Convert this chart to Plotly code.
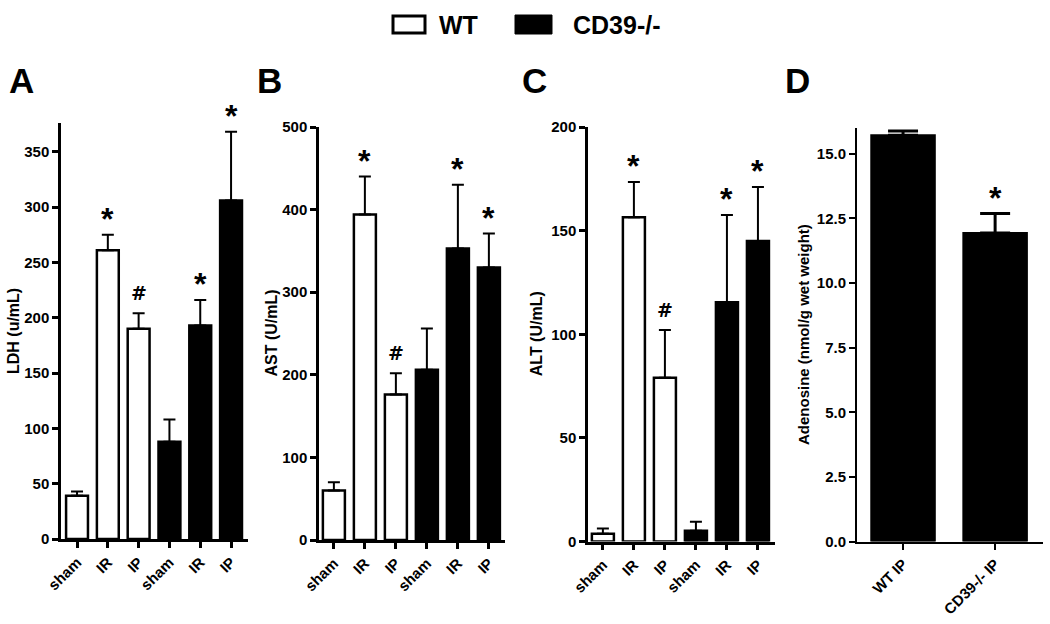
import plotly.graph_objects as go

# ---------------- data ----------------
groups = ["sham", "IR", "IP"]
tick_labels_abc = groups + groups

A_wt = [39, 261, 190]
A_wt_err = [4, 14, 14]
A_ko = [88, 193, 306]
A_ko_err = [20, 23, 62]
A_wt_sig = ["", "*", "#"]
A_ko_sig = ["", "*", "*"]

B_wt = [60, 394, 176]
B_wt_err = [10, 46, 26]
B_ko = [206, 353, 330]
B_ko_err = [50, 77, 41]
B_wt_sig = ["", "*", "#"]
B_ko_sig = ["", "*", "*"]

C_wt = [3.7, 156.5, 79]
C_wt_err = [2.6, 17, 23]
C_ko = [5.2, 115.5, 145]
C_ko_err = [4.3, 42, 26]
C_wt_sig = ["", "*", "#"]
C_ko_sig = ["", "*", "*"]

D_labels = ["WT IP", "CD39-/- IP"]
D_vals = [15.72, 11.94]
D_err = [0.16, 0.75]
D_sig = ["", "*"]

# ---------------- layout helpers ----------------
W, H = 1050, 624
FONT = "Liberation Sans, Arial, sans-serif"


def px_x(p):
    return p / W


def px_y(p):
    return 1 - p / H


fig = go.Figure()

panels = [
    dict(letter="A", title="LDH (u/mL)", x0=61, x1=248, ybot=539, ytop=123,
         yr=[0, 376], tickvals=list(range(0, 351, 50)),
         xr=[-0.52, 5.55], letter_x=7, title_x=13,
         wt=A_wt, wte=A_wt_err, ko=A_ko, koe=A_ko_err, wts=A_wt_sig, kos=A_ko_sig),
    dict(letter="B", title="AST (U/mL)", x0=319, x1=505, ybot=540, ytop=127,
         yr=[0, 500], tickvals=list(range(0, 501, 100)),
         xr=[-0.48, 5.52], letter_x=255, title_x=271,
         wt=B_wt, wte=B_wt_err, ko=B_ko, koe=B_ko_err, wts=B_wt_sig, kos=B_ko_sig),
    dict(letter="C", title="ALT (U/mL)", x0=588, x1=775, ybot=541.5, ytop=127,
         yr=[0, 200], tickvals=list(range(0, 201, 50)),
         xr=[-0.48, 5.55], letter_x=520, title_x=536,
         wt=C_wt, wte=C_wt_err, ko=C_ko, koe=C_ko_err, wts=C_wt_sig, kos=C_ko_sig),
]

annotations = []
layout_axes = {}


def axis_style(lw):
    return dict(
        showline=True, linecolor="black", linewidth=lw, ticks="outside",
        ticklen=6, tickwidth=lw, tickcolor="black", showgrid=False, zeroline=False,
        automargin=False,
        tickfont=dict(family=FONT, size=15, color="black", weight="bold"),
    )


def sig_annotation(xv, top, s, xa, ya):
    if s == "*":
        font = dict(family=FONT, size=32, color="black", weight="bold")
        shift = -4
    else:
        font = dict(family="DejaVu Sans, sans-serif", size=19, color="black", weight="bold")
        shift = 7
    return dict(x=xv, y=top, xref=xa, yref=ya, text=s, showarrow=False,
                yanchor="bottom", yshift=shift, font=font)


for i, p in enumerate(panels):
    n = i + 1
    xa = "x" if n == 1 else f"x{n}"
    ya = "y" if n == 1 else f"y{n}"
    wt_x = [0, 1, 2]
    ko_x = [3, 4, 5]
    fig.add_trace(go.Bar(
        x=wt_x, y=p["wt"], width=0.71, xaxis=xa, yaxis=ya,
        marker=dict(color="white", line=dict(color="black", width=2.5)),
        error_y=dict(type="data", symmetric=False, array=p["wte"],
                     arrayminus=[0] * 3, color="black", thickness=2, width=6),
    ))
    fig.add_trace(go.Bar(
        x=ko_x, y=p["ko"], width=0.71, xaxis=xa, yaxis=ya,
        marker=dict(color="black", line=dict(color="black", width=2.5)),
        error_y=dict(type="data", symmetric=False, array=p["koe"],
                     arrayminus=[0] * 3, color="black", thickness=2, width=6),
    ))
    layout_axes[f"xaxis{n if n > 1 else ''}"] = dict(
        domain=[px_x(p["x0"]), px_x(p["x1"])], range=p["xr"], anchor=ya,
        tickvals=wt_x + ko_x, ticktext=tick_labels_abc, tickangle=-45,
        **axis_style(2.5),
    )
    layout_axes[f"yaxis{n if n > 1 else ''}"] = dict(
        domain=[px_y(p["ybot"]), px_y(p["ytop"])], range=p["yr"], anchor=xa,
        tickvals=p["tickvals"], **axis_style(2.5),
    )
    for xs, vals, errs, sig in [(wt_x, p["wt"], p["wte"], p["wts"]),
                                (ko_x, p["ko"], p["koe"], p["kos"])]:
        for xv, v, e, s in zip(xs, vals, errs, sig):
            if s:
                annotations.append(sig_annotation(xv, v + e, s, xa, ya))
    annotations.append(dict(
        x=px_x(p["letter_x"]), y=px_y(80), xref="paper", yref="paper",
        text=p["letter"], showarrow=False, xanchor="left", yanchor="middle",
        font=dict(family=FONT, size=35, color="black", weight="bold"),
    ))
    annotations.append(dict(
        x=px_x(p["title_x"]), y=px_y((p["ybot"] + p["ytop"]) / 2),
        xref="paper", yref="paper", text=p["title"], textangle=-90,
        showarrow=False, xanchor="center", yanchor="middle",
        font=dict(family=FONT, size=16, color="black", weight="bold"),
    ))

# panel D
D_x = [0, 1]
fig.add_trace(go.Bar(
    x=D_x, y=D_vals, width=0.69, xaxis="x4", yaxis="y4",
    marker=dict(color="black", line=dict(color="black", width=2)),
    error_y=dict(type="data", symmetric=False, array=D_err,
                 arrayminus=[0] * 2, color="black", thickness=3, width=15),
))
layout_axes["xaxis4"] = dict(
    domain=[px_x(857), px_x(1043)], range=[-0.5, 1.52], anchor="y4",
    tickvals=D_x, ticktext=D_labels, tickangle=-45, **axis_style(2),
)
layout_axes["yaxis4"] = dict(
    domain=[px_y(541.5), px_y(128)], range=[0, 16], anchor="x4",
    tickvals=[0, 2.5, 5, 7.5, 10, 12.5, 15], tickformat=".1f", **axis_style(2),
)
for xv, v, e, s in zip(D_x, D_vals, D_err, D_sig):
    if s:
        annotations.append(sig_annotation(xv, v + e, s, "x4", "y4"))
annotations.append(dict(
    x=px_x(783), y=px_y(80), xref="paper", yref="paper", text="D",
    showarrow=False, xanchor="left", yanchor="middle",
    font=dict(family=FONT, size=35, color="black", weight="bold"),
))
annotations.append(dict(
    x=px_x(803), y=px_y(335), xref="paper", yref="paper",
    text="Adenosine (nmol/g wet weight)", textangle=-90, showarrow=False,
    xanchor="center", yanchor="middle",
    font=dict(family=FONT, size=15, color="black", weight="bold"),
))

# legend (drawn manually)
shapes = [
    dict(type="rect", xref="paper", yref="paper",
         x0=px_x(393), x1=px_x(425), y0=px_y(33), y1=px_y(16),
         line=dict(color="black", width=3), fillcolor="white"),
    dict(type="rect", xref="paper", yref="paper",
         x0=px_x(515), x1=px_x(552), y0=px_y(34), y1=px_y(15),
         line=dict(color="black", width=1), fillcolor="black"),
]
annotations.append(dict(
    x=px_x(437), y=px_y(25), xref="paper", yref="paper", text="WT",
    showarrow=False, xanchor="left", yanchor="middle",
    font=dict(family=FONT, size=25, color="black", weight="bold"),
))
annotations.append(dict(
    x=px_x(571), y=px_y(25), xref="paper", yref="paper", text="CD39-/-",
    showarrow=False, xanchor="left", yanchor="middle",
    font=dict(family=FONT, size=25, color="black", weight="bold"),
))

fig.update_layout(
    template="none",
    width=W, height=H, margin=dict(l=0, r=0, t=0, b=0, pad=0),
    paper_bgcolor="white", plot_bgcolor="white", showlegend=False,
    barmode="overlay", annotations=annotations, shapes=shapes,
    **layout_axes,
)

fig.write_html("out.html", config={"displayModeBar": False},
               post_script="document.body.style.margin='0px';")
